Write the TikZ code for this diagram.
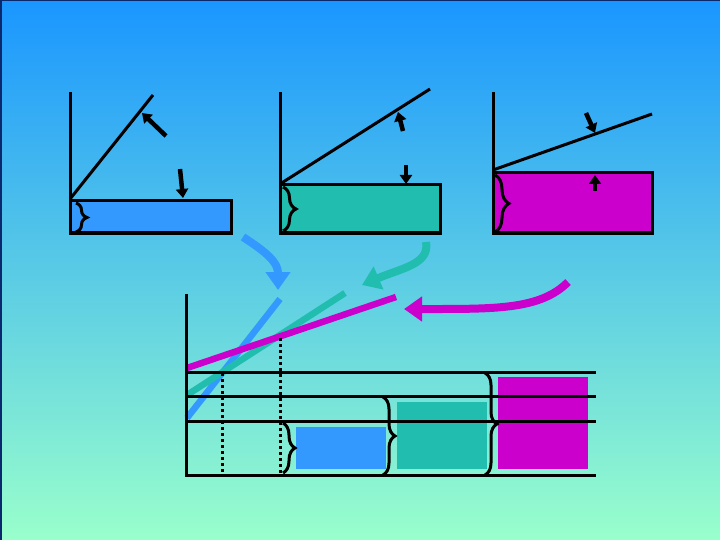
\documentclass[tikz,border=0pt]{standalone}
\usetikzlibrary{arrows.meta,decorations.pathreplacing}
\definecolor{bgtop}{RGB}{26,150,255}
\definecolor{bgbot}{RGB}{153,255,204}
\definecolor{edge}{RGB}{10,40,110}
\definecolor{lowblue}{RGB}{51,153,255}
\definecolor{midteal}{RGB}{33,190,175}
\definecolor{highmag}{RGB}{204,0,204}
\tikzset{
  axisline/.style={line width=3pt},
  shelf/.style={draw=black,line width=3pt},
  tinyarrow/.style={line width=4.5pt,-{Triangle[length=9pt,width=12pt]}},
  bigarrow/.style={line width=8pt,-{Triangle[length=18pt,width=24pt]}},
  curly/.style={decorate,line width=3pt,decoration={brace,amplitude=#1}},
  level/.style={line width=6.5pt},
  drop/.style={line width=3pt,dash pattern=on 3pt off 3pt}
}
\begin{document}
\begin{tikzpicture}[x=1pt,y=-1pt]
    \useasboundingbox (0,0) rectangle (720,540);
    % background
    \shade[top color=bgtop,bottom color=bgbot] (0,0) rectangle (720,540);
    \draw[edge,line width=1.5pt] (0.75,540) -- (0.75,0.75) -- (720,0.75);
    % small plot, blue
    \draw[shelf,fill=lowblue] (70,201) rectangle (231,233);
    \draw[axisline] (70,92) -- (70,233);
    \draw[axisline] (70,199) -- (153,95);
    \draw[tinyarrow] (166,136) -- (142,113);
    \draw[tinyarrow] (180,169) -- (183,198);
    \draw[curly=11pt] (76,203) -- (76,232);
    % small plot, teal
    \draw[shelf,fill=midteal] (280,185) rectangle (440,233);
    \draw[axisline] (280,92) -- (280,233);
    \draw[axisline] (280,184) -- (430,89);
    \draw[tinyarrow] (403,131) -- (398,112);
    \draw[tinyarrow] (406,165) -- (406,184);
    \draw[curly=13pt] (283,187) -- (283,231);
    % small plot, magenta
    \draw[shelf,fill=highmag] (493,173) rectangle (652,233);
    \draw[axisline] (493,92) -- (493,233);
    \draw[axisline] (493,170) -- (652,114);
    \draw[tinyarrow] (586,113) -- (595,133);
    \draw[tinyarrow] (595,191) -- (595,175);
    \draw[curly=14pt] (495,175) -- (495,232);
    % curved arrows
    \draw[bigarrow,lowblue] (243,237) .. controls (266,252) and (278,262) .. (278,290);
    \draw[bigarrow,midteal] (426,242) .. controls (430,264) and (402,268) .. (362,285);
    \draw[bigarrow,highmag] (568,282) .. controls (540,310) and (495,309) .. (404,309);
    % big plot
    \fill[lowblue] (296,427) rectangle (386,469);
    \fill[midteal] (397,402) rectangle (487,469);
    \fill[highmag] (498,377) rectangle (588,469);
    \draw[level,lowblue] (187,418) -- (280,299);
    \draw[level,midteal] (187,395) -- (345,293);
    \draw[level,highmag] (187,368) -- (396,297);
    \draw[drop] (222,373) -- (222,475);
    \draw[drop] (280,338) -- (280,475);
    \foreach \yy in {372,396,421,475}
      \draw[axisline] (186,\yy) -- (596,\yy);
    \draw[axisline] (186,294) -- (186,476.5);
    \draw[curly=12pt] (283,423) -- (283,473);
    \draw[curly=12pt] (383,397) -- (383,475);
    \draw[curly=12pt] (485,373) -- (485,475);
\end{tikzpicture}
\end{document}
